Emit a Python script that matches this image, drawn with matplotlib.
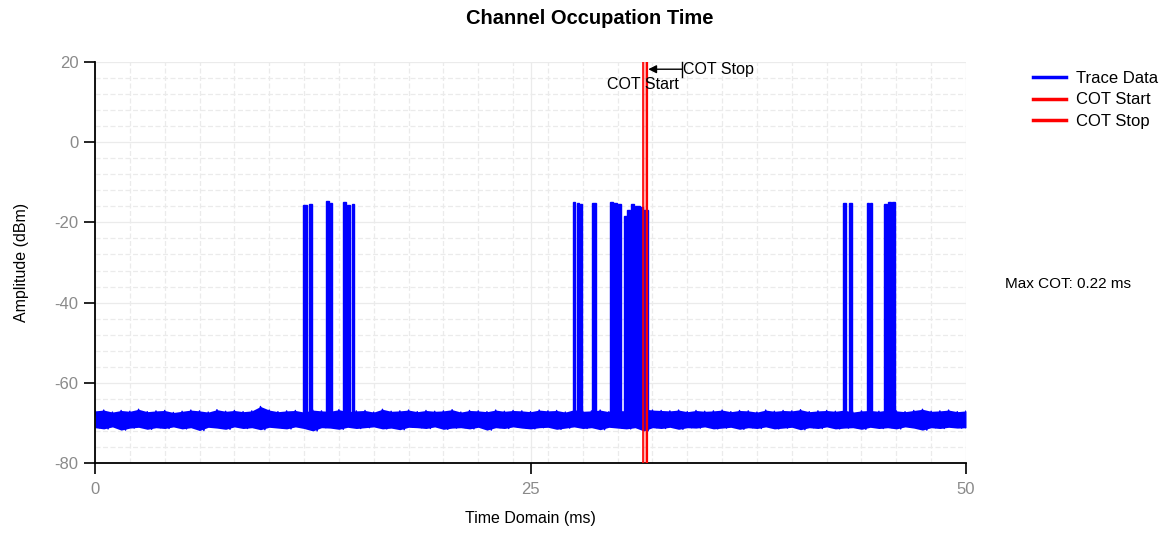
import matplotlib
matplotlib.use("Agg")
import matplotlib.pyplot as plt
from matplotlib.lines import Line2D
import numpy as np

plt.rcParams['font.family'] = ['Liberation Sans', 'DejaVu Sans']
plt.rcParams['axes.unicode_minus'] = False

# ---------------- data ----------------
title = "Channel Occupation Time"
x_label = "Time Domain (ms)"
y_label = "Amplitude (dBm)"
x_ticks = [0, 25, 50]
y_ticks = [20, 0, -20, -40, -60, -80]

# noise floor envelope, sampled every 0.5 ms from 0 to 50 ms
noise_time_step = 0.5
noise_upper = [-67.0, -66.8, -67.3, -66.9, -67.1, -66.6, -67.2, -67.0, -66.9, -67.4,
               -67.1, -66.8, -67.0, -67.3, -66.7, -67.1, -66.9, -67.2, -67.0, -65.9,
               -66.8, -67.2, -67.0, -66.9, -67.3, -66.8, -67.0, -67.1, -66.7, -67.2,
               -67.0, -66.9, -67.3, -66.6, -67.1, -67.0, -66.8, -67.2, -66.9, -67.1,
               -67.0, -66.7, -67.3, -66.9, -67.0, -67.2, -66.8, -67.1, -66.9, -67.0,
               -67.2, -66.8, -67.0, -66.9, -67.3, -66.7, -67.1, -67.0, -66.8, -67.2,
               -66.9, -67.0, -67.1, -66.5, -66.8, -66.9, -67.0, -66.8, -67.2, -66.9,
               -67.1, -67.0, -66.8, -67.2, -66.9, -67.0, -67.3, -66.8, -67.1, -66.9,
               -67.0, -66.7, -67.2, -67.0, -66.9, -67.1, -66.8, -67.3, -67.0, -66.9,
               -67.1, -66.8, -67.0, -67.2, -66.9, -66.6, -67.1, -67.0, -66.8, -67.2, -67.0]
noise_lower = [-71.2, -71.5, -71.0, -71.8, -71.3, -71.1, -71.6, -71.2, -71.4, -71.0,
               -71.5, -71.2, -71.9, -71.1, -71.3, -71.6, -71.0, -71.4, -71.2, -71.7,
               -71.1, -71.3, -71.5, -71.0, -71.4, -72.0, -71.2, -71.3, -71.6, -71.1,
               -71.4, -71.2, -71.0, -71.5, -71.3, -71.7, -71.1, -71.2, -71.4, -71.0,
               -71.6, -71.3, -71.2, -71.5, -71.1, -71.8, -71.2, -71.4, -71.0, -71.3,
               -71.5, -71.2, -71.1, -71.6, -71.3, -71.0, -71.4, -71.2, -71.7, -71.1,
               -71.3, -71.5, -71.2, -72.0, -71.2, -71.4, -71.1, -71.6, -71.2, -71.3,
               -71.0, -71.5, -71.3, -71.1, -71.6, -71.2, -71.4, -71.0, -71.5, -71.3,
               -71.1, -71.7, -71.2, -71.4, -71.0, -71.5, -71.3, -71.2, -71.6, -71.1,
               -71.4, -71.2, -71.5, -71.0, -71.3, -71.8, -71.2, -71.4, -71.1, -71.3, -71.2]
noise_floor = -69.0

# transmission bursts (ms)
burst_start = [11.95, 12.30, 13.26, 13.50, 14.25, 14.46, 14.73,
               27.42, 27.69, 27.85, 28.51, 29.56, 29.75, 30.04, 30.38, 30.54, 30.75,
               31.00, 31.29, 31.47,
               42.96, 43.30, 44.30, 44.49, 45.31, 45.54, 45.77]
burst_end = [12.15, 12.47, 13.45, 13.60, 14.40, 14.65, 14.87,
             27.55, 27.80, 27.97, 28.76, 29.72, 29.95, 30.19, 30.54, 30.71, 30.94,
             31.29, 31.47, 31.76,
             43.09, 43.43, 44.43, 44.62, 45.48, 45.69, 45.94]
burst_level = [-15.6, -15.3, -14.6, -15.2, -14.8, -15.7, -15.4,
               -14.8, -15.2, -15.3, -15.2, -15.0, -15.2, -15.3, -18.5, -17.0, -15.5,
               -15.8, -16.2, -17.0,
               -15.2, -15.2, -15.2, -15.2, -15.5, -14.8, -14.8]

cot_start = 31.45
cot_stop = 31.71
max_cot_text = "Max COT: 0.22 ms"
legend_labels = ["Trace Data", "COT Start", "COT Stop"]

# ---------------- figure ----------------
fig = plt.figure(figsize=(11.71, 5.34), dpi=100)
ax = fig.add_axes([95 / 1171, 1 - 463 / 534, (966 - 95) / 1171, (463 - 62) / 534])

blue = "#0000ff"
red = "#ff0000"

# noise floor drawn as a dense zig-zag trace
t = np.arange(len(noise_upper)) * noise_time_step
zx = np.empty(2 * len(t))
zy = np.empty(2 * len(t))
zx[0::2] = t
zx[1::2] = np.minimum(t + noise_time_step / 2, 50)
zy[0::2] = noise_upper
zy[1::2] = noise_lower
ax.fill_between(t, noise_lower, noise_upper, color=blue, lw=0, zorder=2)
ax.plot(zx, zy, color=blue, lw=1.0, zorder=2)

# bursts
bs = np.array(burst_start)
be = np.array(burst_end)
bl = np.array(burst_level)
ax.bar(bs, bl - noise_floor, width=be - bs, bottom=noise_floor, align='edge',
       color=blue, edgecolor=blue, linewidth=1.0, zorder=3)

# COT markers
ax.axvspan(cot_start, cot_stop, color=red, alpha=0.3, lw=0, zorder=4)
ax.axvline(cot_start, color=red, lw=1.2, zorder=5)
ax.axvline(cot_stop, color=red, lw=1.6, zorder=5)

ax.text(cot_start, 14.3, "COT Start", ha='center', va='center', fontsize=11.5, zorder=6)
ax.annotate("", xy=(cot_stop + 0.05, 18.2), xytext=(cot_stop + 2.0, 18.2),
            arrowprops=dict(arrowstyle='-|>', color='black', lw=1.0,
                            mutation_scale=12, shrinkA=0, shrinkB=0), zorder=6)
ax.plot([cot_stop + 2.0, cot_stop + 2.0], [16.2, 20.0], color='black', lw=1.0,
        zorder=6, clip_on=False)
ax.text(cot_stop + 2.05, 18.2, "COT Stop", ha='left', va='center', fontsize=11.5, zorder=6)

# axes styling
ax.set_xlim(0, 50)
ax.set_ylim(-80, 20)
ax.set_xticks(x_ticks)
ax.set_yticks(y_ticks)
ax.set_xticks(np.arange(0, 51, 2), minor=True)
ax.set_yticks(np.arange(-80, 21, 4), minor=True)
ax.tick_params(axis='both', which='major', direction='out', length=8, width=1.2,
               colors='black', labelcolor='#8a8a8a', labelsize=12)
ax.tick_params(axis='x', which='major', pad=6)
ax.tick_params(axis='y', which='major', pad=4)
ax.tick_params(which='minor', length=0)
ax.grid(which='minor', color='#ebebeb', lw=0.9, ls=(0, (4, 2)))
ax.grid(which='major', color='#ebebeb', lw=0.9, ls='-')
ax.set_axisbelow(True)
for s in ['top', 'right']:
    ax.spines[s].set_visible(False)
for s in ['left', 'bottom']:
    ax.spines[s].set_linewidth(1.3)

ax.set_xlabel(x_label, fontsize=11.5, labelpad=10)
ax.set_ylabel(y_label, fontsize=11.5, labelpad=18)

fig.text(0.504, 1 - 19 / 534, title, ha='center', va='center', fontsize=14.5, fontweight='bold')
fig.text(1005 / 1171, 1 - 284 / 534, max_cot_text, ha='left', va='center', fontsize=11)

handles = [Line2D([], [], color=blue, lw=2.5),
           Line2D([], [], color=red, lw=2.5),
           Line2D([], [], color=red, lw=2.5)]
fig.legend(handles, legend_labels, loc='upper left', bbox_to_anchor=(1026 / 1171, 1 - 64 / 534),
           frameon=False, fontsize=12, handlelength=2.0, handletextpad=0.6,
           labelspacing=0.4, borderaxespad=0)

fig.savefig("out.png", dpi=100)
